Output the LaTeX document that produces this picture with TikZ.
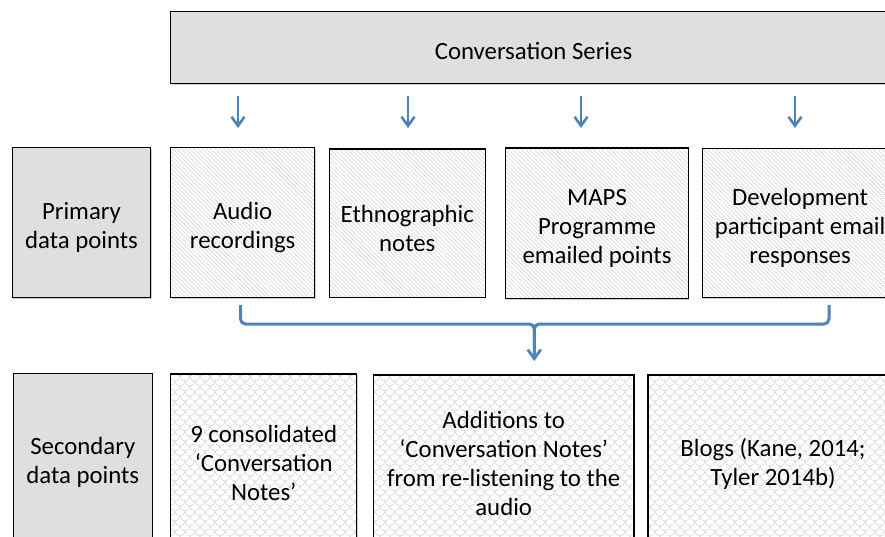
\documentclass[tikz,border=0pt]{standalone}
\usepackage{fontspec}
\setmainfont{Carlito}
\usetikzlibrary{patterns.meta,shadows,arrows.meta,calc}

\definecolor{boxgray}{RGB}{223,223,223}
\definecolor{arrowblue}{RGB}{79,129,189}
\definecolor{hatchgray}{RGB}{210,210,210}
\definecolor{scalegray}{RGB}{212,212,212}

% fish-scale texture for the secondary boxes
\tikzdeclarepattern{
  name=scales,
  type=uncolored,
  bounding box={(-0.5pt,-0.5pt) and (10.5pt,10.5pt)},
  tile size={(10pt,10pt)},
  code={
    \draw[line width=0.5pt] (0pt,10pt) arc[start angle=180,end angle=360,radius=5pt];
    \draw[line width=0.5pt] (-5pt,5pt) arc[start angle=180,end angle=360,radius=5pt];
    \draw[line width=0.5pt] (5pt,5pt) arc[start angle=180,end angle=360,radius=5pt];
  }
}

\begin{document}
\begin{tikzpicture}[x=1pt,y=-1pt,
  base/.style={draw=black, line width=1.1pt, inner sep=0pt, rectangle,
    drop shadow={shadow xshift=0.8pt, shadow yshift=-1.2pt, opacity=0.2, fill=black}},
  graybox/.style={base, fill=boxgray},
  hatchbox/.style={base, preaction={fill=white},
    pattern={Lines[angle=-45,distance=3pt,line width=0.55pt]}, pattern color=hatchgray},
  scalebox/.style={base, preaction={fill=white},
    pattern=scales, pattern color=scalegray},
  txt/.style={align=center, inner sep=0pt, text=black,
    font=\fontsize{24.8}{29}\selectfont},
  feed/.style={draw=arrowblue, line width=2.8pt,
    -{Straight Barb[length=9pt,width=13pt,line width=2.6pt]}},
  bracket/.style={draw=arrowblue, line width=3pt, rounded corners=5pt},
]
\useasboundingbox (0,0) rectangle (885,536);
\clip (0,0) rectangle (885,536);

% top banner
\node[graybox, minimum width=725.6pt, minimum height=71.6pt] (cs) at (533.5,47.5) {};
\node[txt] (cs-t) at ([yshift=-3.3pt]cs.center) {Conversation Series};

% primary row
\node[graybox, minimum width=138.4pt, minimum height=150pt] (prim) at (81.5,222.3) {};
\node[hatchbox, minimum width=144pt, minimum height=149.6pt] (audio) at (242.7,222.5) {};
\node[hatchbox, minimum width=156pt, minimum height=148.3pt] (ethno) at (407.3,223.1) {};
\node[hatchbox, minimum width=182.6pt, minimum height=150.5pt] (maps) at (597,223.2) {};
\node[hatchbox, minimum width=195.7pt, minimum height=149pt] (dev) at (800.1,222.8) {};

\node[txt] (prim-t) at ([yshift=-5pt]prim.center) {Primary\\data points};
\node[txt] (audio-t) at ([yshift=-5pt]audio.center) {Audio\\recordings};
\node[txt] (ethno-t) at ([yshift=-5pt]ethno.center) {Ethnographic\\notes};
\node[txt] (maps-t) at ([yshift=-5pt]maps.center) {MAPS\\Programme\\emailed points};
\node[txt] (dev-t) at ([yshift=-5pt]dev.center) {Development\\participant email\\responses};

% secondary row
\node[graybox, minimum width=139pt, minimum height=168.7pt] (sec) at (82.8,457.6) {};
\node[scalebox, minimum width=186pt, minimum height=168pt] (cons) at (263.7,458) {};
\node[scalebox, minimum width=260.6pt, minimum height=167pt] (add) at (503.7,458.5) {};
\node[scalebox, minimum width=250pt, minimum height=167pt] (blogs) at (773,458.5) {};

\node[txt] (sec-t) at ([yshift=-5pt]sec.center) {Secondary\\data points};
\node[txt] (cons-t) at ([yshift=-5pt]cons.center) {9 consolidated\\‘Conversation\\Notes’};
\node[txt] (add-t) at ([yshift=-5pt]add.center) {Additions to\\‘Conversation Notes’\\from re-listening to the\\audio};
\node[txt] (blogs-t) at ([yshift=-5pt]blogs.center) {Blogs (Kane, 2014;\\Tyler 2014b)};

% short feeder arrows below the banner
\coordinate (f1s) at (238,96);   \coordinate (f1e) at (238,128);
\coordinate (f2s) at (408,96);   \coordinate (f2e) at (408,128);
\coordinate (f3s) at (581,96);   \coordinate (f3e) at (581,128);
\coordinate (f4s) at (795,96);   \coordinate (f4e) at (795,128);
\draw[feed] (f1s) -- (f1e);
\draw[feed] (f2s) -- (f2e);
\draw[feed] (f3s) -- (f3e);
\draw[feed] (f4s) -- (f4e);

% bracket gathering the primary row into the secondary row
\coordinate (bl) at (240.5,305);
\coordinate (br) at (829,305);
\coordinate (bm) at (534.3,324);
\coordinate (bstem) at (534.3,345);
\coordinate (btip) at (534.3,361);
\draw[bracket] (br) |- (bm) -- (bstem);
\draw[bracket, -{Straight Barb[length=9pt,width=13pt,line width=2.8pt]}] (bl) |- (bm) -- (btip);
\end{tikzpicture}
\end{document}
